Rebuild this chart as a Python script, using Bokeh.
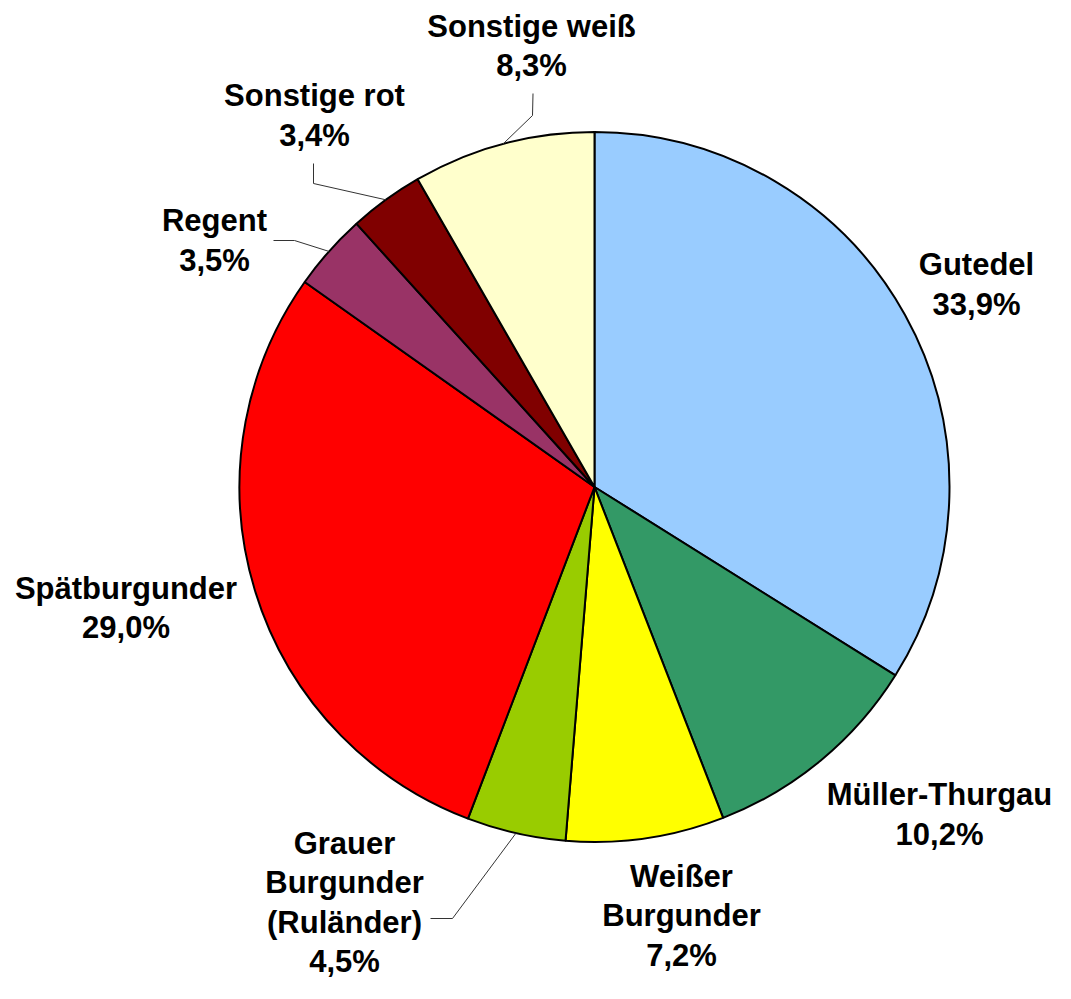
import math
from bokeh.plotting import figure
from bokeh.models import Range1d, ColumnDataSource
from bokeh.core.properties import value
from bokeh.embed import file_html
from bokeh.resources import INLINE

# ---- data ----
categories = ["Gutedel", "Müller-Thurgau", "Weißer\nBurgunder", "Grauer\nBurgunder\n(Ruländer)",
              "Spätburgunder", "Regent", "Sonstige rot", "Sonstige weiß"]
shares = [33.9, 10.2, 7.2, 4.5, 29.0, 3.5, 3.4, 8.3]
pct_labels = ["33,9%", "10,2%", "7,2%", "4,5%", "29,0%", "3,5%", "3,4%", "8,3%"]
colors = ["#99CCFF", "#339966", "#FFFF00", "#99CC00", "#FF0000", "#993366", "#800000", "#FFFFCC"]

# ---- layout (image pixel coords, y down) ----
W, H = 1055, 983
cx_img, cy_img, R = 594, 486.5, 355
label_pos = [(976, 284), (939, 814), (681, 915.5), (344, 902),
             (125.5, 607.5), (214, 240), (314, 115), (531, 45.5)]
# leader lines: (elbow offset, end offset) relative to label centre, None = no leader
leaders = [None, None, None, ((108, 16), (86, 16)), None,
           ((80, 0), (59, 0)), ((-1, 68), (-1, 48)), ((1, 69.5), (1.5, 47.5))]

def Y(y_img):
    return H - y_img

p = figure(width=W, height=H, output_backend="svg", toolbar_location=None,
           x_range=Range1d(0, W), y_range=Range1d(0, H),
           min_border=0)
p.axis.visible = False
p.grid.visible = False
p.outline_line_color = None

total = sum(shares)
starts, ends, mids = [], [], []
cum = 0.0
for s in shares:
    a0 = math.pi / 2 - 2 * math.pi * cum / total
    cum += s
    a1 = math.pi / 2 - 2 * math.pi * cum / total
    starts.append(a0)
    ends.append(a1)
    mids.append((a0 + a1) / 2)

src = ColumnDataSource(dict(start=starts, end=ends, color=colors))
p.wedge(x=cx_img, y=Y(cy_img), radius=R, start_angle="start", end_angle="end",
        direction="clock", fill_color="color", line_color="black", line_width=2,
        source=src)

# leader lines
for i, ld in enumerate(leaders):
    if ld is None:
        continue
    lx, ly = label_pos[i]
    ax = cx_img + R * math.cos(mids[i])
    ay = cy_img - R * math.sin(mids[i])
    (ex, ey), (tx, ty) = ld
    xs = [ax, lx + ex, lx + tx]
    ys = [Y(ay), Y(ly + ey), Y(ly + ty)]
    p.line(xs, ys, line_color="#333333", line_width=1)

texts = [c + "\n" + v for c, v in zip(categories, pct_labels)]
lsrc = ColumnDataSource(dict(x=[q[0] for q in label_pos], y=[Y(q[1]) for q in label_pos], t=texts))
p.text(x="x", y="y", text="t", source=lsrc, text_font=value("Liberation Sans"),
       text_font_style="bold", text_font_size="31px", text_align="center",
       text_baseline="middle", text_line_height=1.12, text_color="black")

open("out.html", "w").write(file_html(p, INLINE))
